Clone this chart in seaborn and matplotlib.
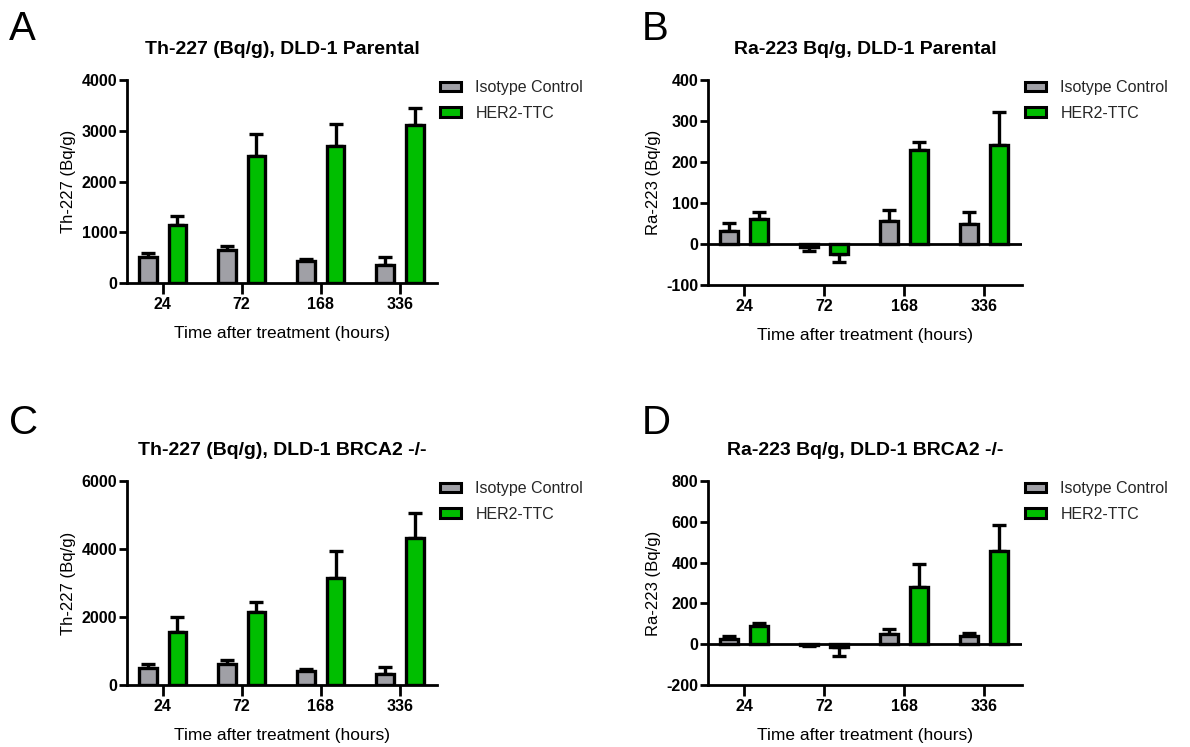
import numpy as np
import pandas as pd
import matplotlib
matplotlib.use("Agg")
import matplotlib.pyplot as plt
from matplotlib.patches import Patch
import seaborn as sns

# ---------------- data ----------------
categories = ["24", "72", "168", "336"]
groups = ["Isotype Control", "HER2-TTC"]

# Panel A: Th-227 (Bq/g), DLD-1 Parental
a_iso = [515, 645, 434, 350]
a_iso_err = [85, 85, 46, 163]
a_her = [1150, 2493, 2697, 3105]
a_her_err = [165, 435, 428, 349]

# Panel B: Ra-223 Bq/g, DLD-1 Parental
b_iso = [32, -7, 55, 50]
b_iso_err = [20, 10, 27, 28]
b_her = [62, -25, 229, 242]
b_her_err = [16, 18, 19, 81]

# Panel C: Th-227 (Bq/g), DLD-1 BRCA2 -/-
c_iso = [490, 627, 412, 333]
c_iso_err = [118, 98, 68, 187]
c_her = [1569, 2147, 3157, 4324]
c_her_err = [441, 284, 774, 725]

# Panel D: Ra-223 Bq/g, DLD-1 BRCA2 -/-
d_iso = [26, -3, 52, 42]
d_iso_err = [16, 6, 21, 13]
d_her = [87, -16, 282, 457]
d_her_err = [19, 44, 111, 127]

titles = ["Th-227 (Bq/g), DLD-1 Parental", "Ra-223 Bq/g, DLD-1 Parental",
          "Th-227 (Bq/g), DLD-1 BRCA2 -/-", "Ra-223 Bq/g, DLD-1 BRCA2 -/-"]
ylabels = ["Th-227 (Bq/g)", "Ra-223 (Bq/g)", "Th-227 (Bq/g)", "Ra-223 (Bq/g)"]
yticks_list = [[0, 1000, 2000, 3000, 4000],
               [-100, 0, 100, 200, 300, 400],
               [0, 2000, 4000, 6000],
               [-200, 0, 200, 400, 600, 800]]
letters = ["A", "B", "C", "D"]
xlabel = "Time after treatment (hours)"

colors = {"Isotype Control": "#a0a0a6", "HER2-TTC": "#00be00"}

# ---------------- style ----------------
sns.set_theme(style="ticks")
plt.rcParams["font.family"] = ["Liberation Sans", "DejaVu Sans"]
plt.rcParams["axes.unicode_minus"] = False

fig = plt.figure(figsize=(11.9, 7.47), dpi=100)
W, H = 1190, 747
rects = [(127, 80, 437, 283), (708, 80, 1022, 285),
         (127, 481, 437, 685), (708, 481, 1022, 685)]
letter_pos = [(9, 10), (642, 10), (9, 404), (642, 404)]

panels = [(a_iso, a_iso_err, a_her, a_her_err),
          (b_iso, b_iso_err, b_her, b_her_err),
          (c_iso, c_iso_err, c_her, c_her_err),
          (d_iso, d_iso_err, d_her, d_her_err)]

for i, (iso, iso_err, her, her_err) in enumerate(panels):
    x0, y0, x1, y1 = rects[i]
    ax = fig.add_axes([x0 / W, 1 - y1 / H, (x1 - x0) / W, (y1 - y0) / H])
    df = pd.DataFrame({
        "time": categories * 2,
        "group": [groups[0]] * 4 + [groups[1]] * 4,
        "value": iso + her,
    })
    sns.barplot(data=df, x="time", y="value", hue="group", order=categories,
                hue_order=groups, palette=colors, saturation=1, width=0.75,
                gap=0.4, edgecolor="black", linewidth=2.4, errorbar=None,
                legend=False, ax=ax, zorder=2)
    # one-sided error bars in the direction of each bar
    errs = {groups[0]: iso_err, groups[1]: her_err}
    for g, cont in zip(groups, ax.containers):
        for bar in cont:
            cx = bar.get_x() + bar.get_width() / 2
            v = bar.get_y() + bar.get_height()
            k = int(round(cx))
            e = errs[g][k]
            yerr = [[0], [e]] if v >= 0 else [[e], [0]]
            ax.errorbar([cx], [v], yerr=yerr, fmt="none", ecolor="black",
                        elinewidth=2.4, capsize=5, capthick=2.4, zorder=1)
    yt = yticks_list[i]
    ax.set_ylim(yt[0], yt[-1])
    ax.set_yticks(yt)
    ax.set_xlim(-0.45, 3.47)
    if yt[0] < 0:
        ax.axhline(0, color="black", lw=2, zorder=3)
    for s in ["top", "right"]:
        ax.spines[s].set_visible(False)
    for s in ["left", "bottom"]:
        ax.spines[s].set_linewidth(2)
        ax.spines[s].set_color("black")
    ax.tick_params(axis="y", length=6, width=2, labelsize=11.5, pad=1, colors="black")
    ax.tick_params(axis="x", length=8, width=2, labelsize=11.5, pad=2, colors="black")
    for lab in ax.get_xticklabels() + ax.get_yticklabels():
        lab.set_fontweight("bold")
    ax.set_xlabel(xlabel, fontsize=12.5, labelpad=10, color="black")
    ax.set_ylabel(ylabels[i], fontsize=12, labelpad=4, color="black")
    ax.set_title(titles[i], fontsize=14, fontweight="bold", pad=19, color="black")
    handles = [Patch(facecolor=colors[g], edgecolor="black", linewidth=2.2, label=g)
               for g in groups]
    ax.legend(handles=handles, loc="upper left", bbox_to_anchor=(0.99, 1.03),
              frameon=False, fontsize=11.5, handlelength=1.3, handleheight=0.5,
              handletextpad=0.9, labelspacing=0.65, borderaxespad=0)
    lx, ly = letter_pos[i]
    fig.text(lx / W, 1 - ly / H, letters[i], fontsize=29, va="top", ha="left",
             color="black")

fig.savefig("out.png", dpi=100, facecolor="white")
